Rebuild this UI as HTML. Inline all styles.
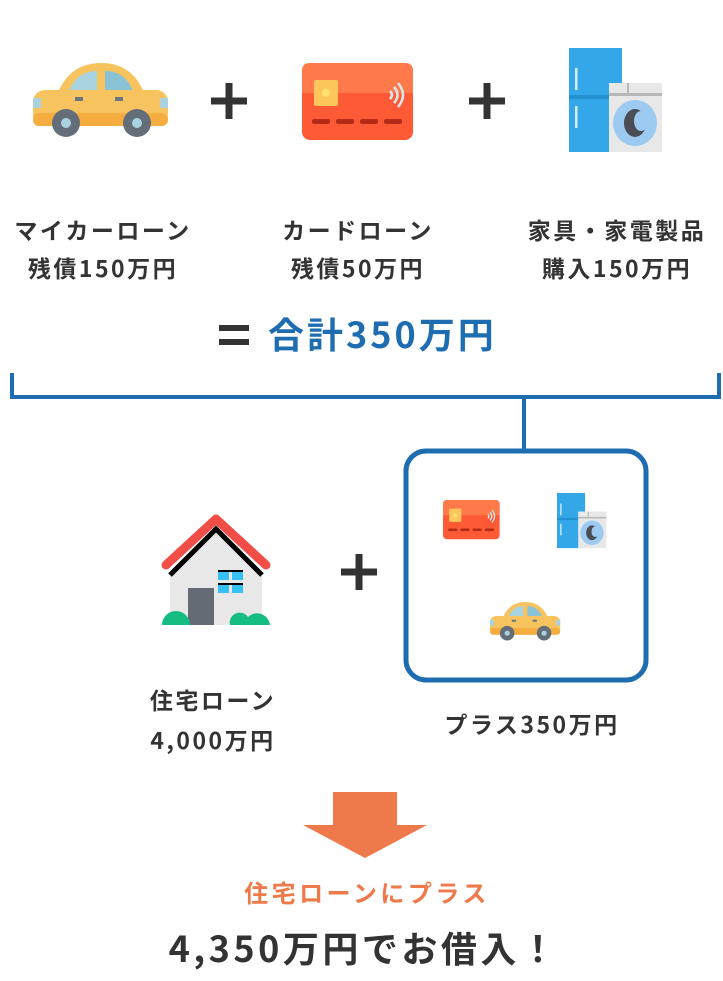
<!DOCTYPE html>
<html><head><meta charset="utf-8"><style>
html,body{margin:0;padding:0;background:#fff;}
body{width:723px;height:976px;overflow:hidden;}
svg text{font-family:"Noto Sans CJK JP","Liberation Sans",sans-serif;font-weight:bold;}
</style></head><body>
<svg width="723" height="976" viewBox="0 0 723 976" xmlns="http://www.w3.org/2000/svg">
<defs>
<g id="car">
  <path d="M24 32 Q36 0 68 0 Q100 0 112 32 Z" fill="#f7c35f"/>
  <path d="M36 28 Q44 8 64 8 L64 28 Z" fill="#a8d2e0"/>
  <path d="M72 8 Q92 8 100 28 L72 28 Z" fill="#8ac2d6"/>
  <rect x="0" y="27" width="135" height="36" rx="12" fill="#f7c35f"/>
  <rect x="0" y="50" width="135" height="13" rx="6" fill="#f5ad3f"/>
  <rect x="0" y="35" width="8" height="10" fill="#a8d2e0"/>
  <rect x="127" y="35" width="8" height="10" fill="#a8d2e0"/>
  <rect x="42" y="34" width="8" height="4" fill="#6b7580"/>
  <rect x="82" y="34" width="8" height="4" fill="#6b7580"/>
  <circle cx="33" cy="60" r="14" fill="#646e78"/><circle cx="33" cy="60" r="5" fill="#a8d2e0"/>
  <circle cx="104" cy="60" r="14" fill="#646e78"/><circle cx="104" cy="60" r="5" fill="#a8d2e0"/>
</g>
<g id="card">
  <rect x="0" y="0" width="111" height="77" rx="8" fill="#ff5a36"/>
  <path d="M0 8 Q0 0 8 0 L103 0 Q111 0 111 8 L111 30 L0 30 Z" fill="#ff7a4a"/>
  <rect x="12" y="17" width="24" height="26" rx="2" fill="#fdc65a"/>
  <circle cx="24" cy="30" r="4" fill="#ffe070"/>
  <path d="M88 28 q4 4 0 8 M92 24 q7 8 0 16 M96 20 q10 12 0 24" stroke="#d8e6f0" stroke-width="2.5" fill="none"/>
  <rect x="10" y="56" width="18" height="5" rx="2" fill="#b52a17"/>
  <rect x="34" y="56" width="18" height="5" rx="2" fill="#b52a17"/>
  <rect x="58" y="56" width="18" height="5" rx="2" fill="#b52a17"/>
  <rect x="82" y="56" width="18" height="5" rx="2" fill="#b52a17"/>
</g>
<g id="app">
  <rect x="0" y="0" width="53" height="104" fill="#33a7e8"/>
  <rect x="0" y="47" width="53" height="4" fill="#2191cf"/>
  <rect x="6" y="20" width="2.5" height="22" fill="#d8ecf8"/>
  <rect x="6" y="58" width="2.5" height="22" fill="#d8ecf8"/>
  <rect x="40" y="35" width="53" height="69" fill="#e8e8e8"/>
  <rect x="40" y="45" width="53" height="3" fill="#b8b8b8"/>
  <rect x="58" y="35" width="2" height="10" fill="#b8b8b8"/>
  <ellipse cx="66" cy="75" rx="22" ry="23" fill="#9ccaf0"/>
  <ellipse cx="66" cy="75" rx="11" ry="14" fill="#4a4e54"/>
  <ellipse cx="72" cy="73" rx="7" ry="10" fill="#9ccaf0"/>
</g>
<g id="plus"><rect x="-18" y="-3.5" width="36" height="7" fill="#333"/><rect x="-3.5" y="-18" width="7" height="36" fill="#333"/></g>
</defs>

<use href="#car" x="33" y="63"/>
<use href="#plus" x="229" y="101"/>
<use href="#card" x="302" y="63"/>
<use href="#plus" x="487" y="101"/>
<use href="#app" x="569" y="48"/>

<g fill="#333" font-size="23" letter-spacing="2.5" text-anchor="middle">
<text x="103" y="239">マイカーローン</text>
<text x="103" y="277">残債150万円</text>
<text x="358" y="239">カードローン</text>
<text x="358" y="277">残債50万円</text>
<text x="617" y="239">家具・家電製品</text>
<text x="617" y="277">購入150万円</text>
</g>
<rect x="219" y="325" width="30" height="6" fill="#333"/>
<rect x="219" y="339" width="30" height="6" fill="#333"/>
<text x="268" y="348" font-size="36" letter-spacing="3" fill="#1e6db1">合計350万円</text>

<path d="M12 373 V397 H719 V373" stroke="#1e6db1" stroke-width="4" fill="none"/>
<path d="M524 397 V450" stroke="#1e6db1" stroke-width="4"/>
<rect x="406" y="451" width="240" height="229" rx="20" stroke="#1e6db1" stroke-width="5" fill="none"/>

<!-- house -->
<g>
  <polygon points="170,625 170,572 216,526 262,572 262,625" fill="#e8e8e8"/>
  <path d="M170 575 L216 529 L262 575" stroke="#000" stroke-width="5" fill="none"/>
  <path d="M166 565 L216 519 L266 565" stroke="#f04e46" stroke-width="9" stroke-linecap="round" stroke-linejoin="round" fill="none"/>
  <rect x="218" y="570" width="11" height="10" fill="#35c1f6"/><rect x="232" y="570" width="11" height="10" fill="#35c1f6"/>
  <rect x="218" y="583" width="11" height="10" fill="#35c1f6"/><rect x="232" y="583" width="11" height="10" fill="#35c1f6"/>
  <rect x="218" y="570" width="25" height="2" fill="#000"/><rect x="218" y="583" width="25" height="2" fill="#000"/>
  <rect x="188" y="588" width="26" height="37" fill="#656b74"/>
  <path d="M162 625 a14 14 0 0 1 28 0 Z" fill="#16bd82"/>
  <path d="M230 625 a10 10 0 0 1 18 -8 a13 13 0 0 1 22 8 Z" fill="#16bd82"/>
</g>
<use href="#plus" x="359" y="572"/>

<use href="#card" transform="translate(443,500) scale(0.51)"/>
<use href="#app" transform="translate(557,493) scale(0.53)"/>
<use href="#car" transform="translate(490,602) scale(0.52)"/>

<g fill="#333" font-size="23" letter-spacing="2.5" text-anchor="middle">
<text x="213" y="709">住宅ローン</text>
<text x="213" y="749">4,000万円</text>
<text x="532" y="733">プラス350万円</text>
</g>

<rect x="333" y="792" width="64" height="34" fill="#ee7a4c"/>
<polygon points="303,825 427,825 365,858" fill="#ee7a4c"/>
<text x="367" y="902" font-size="24" letter-spacing="3.5" fill="#ee7a4c" text-anchor="middle">住宅ローンにプラス</text>
<text x="364" y="962" font-size="36" letter-spacing="3.5" fill="#333" text-anchor="middle">4,350万円でお借入！</text>
</svg>
</body></html>
